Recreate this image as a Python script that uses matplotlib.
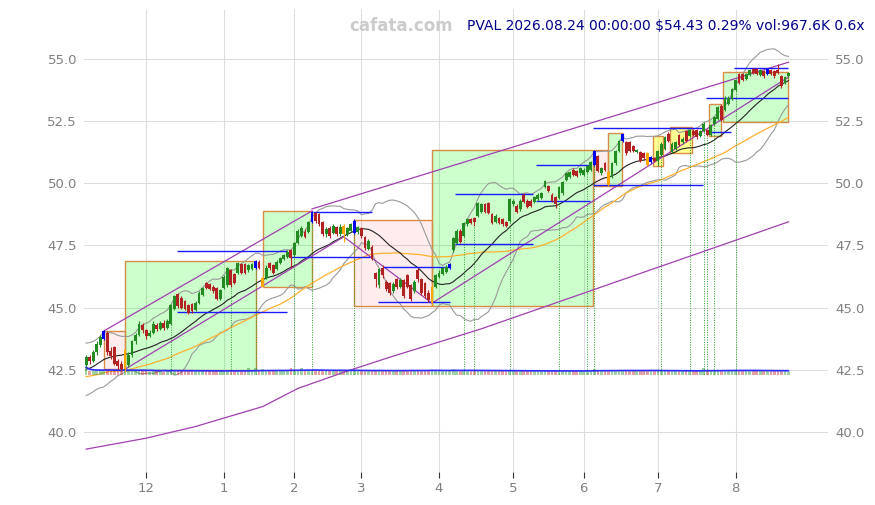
import numpy as np
import pandas as pd
import matplotlib
matplotlib.use("Agg")
import matplotlib.pyplot as plt
from matplotlib.patches import Rectangle

# ---------------- data ----------------
TICKER = "PVAL"
START, END = "2025-11-05", "2026-08-24"
HOLIDAYS = ["2025-11-27", "2025-12-25", "2026-01-01", "2026-01-19", "2026-02-16",
            "2026-04-03", "2026-05-25", "2026-06-19", "2026-07-03"]

# closes before the visible window (only used to warm up the moving averages)
PRE_CLOSE = [41.80, 41.95, 42.10, 42.00, 41.85, 41.70, 41.90, 42.05, 42.20, 42.30,
             42.15, 42.00, 41.90, 42.10, 42.25, 42.35, 42.20, 42.05, 41.95, 41.85,
             41.95, 42.10, 42.20, 42.05, 41.90, 41.80, 41.95, 42.10, 42.15, 42.05,
             42.00, 41.85, 41.75, 41.90, 42.05, 42.15, 42.10, 42.20, 42.05, 42.25,
             42.50, 42.75, 42.90, 43.10, 43.25, 43.20, 43.05, 43.15, 43.20]

OPEN = [42.70, 43.00, 42.85, 43.20, 43.50, 43.75, 44.00, 43.25, 43.40, 42.85,
        42.75, 42.55, 42.70, 43.10, 43.65, 43.90, 44.30, 44.10, 43.85, 44.00,
        44.30, 44.15, 44.40, 44.20, 44.35, 44.95, 45.55, 45.40, 45.25, 45.10,
        45.15, 44.90, 45.20, 45.50, 46.00, 45.95, 45.85, 45.80, 45.35, 45.80,
        45.90, 46.50, 46.35, 46.40, 46.75, 46.75, 46.50, 46.55, 46.60, 46.85,
        45.85, 46.20, 46.80, 46.70, 46.55, 46.80, 46.95, 47.05, 47.30, 47.10,
        47.60, 47.90, 48.05, 48.05, 48.45, 48.80, 48.75, 48.45, 47.95, 48.20,
        48.00, 48.25, 47.95, 48.30, 47.95, 48.10, 48.00, 48.05, 48.20, 47.85,
        47.35, 47.45, 46.40, 45.90, 46.60, 46.05, 46.00, 45.65, 46.15, 45.85,
        46.10, 46.30, 45.90, 45.65, 46.50, 46.15, 46.00, 45.60, 45.20, 45.85,
        46.25, 46.35, 46.45, 46.60, 47.30, 47.60, 48.10, 47.90, 48.35, 48.55,
        48.60, 48.70, 48.85, 49.15, 49.20, 48.75, 48.45, 48.60, 48.55, 48.45,
        48.50, 49.15, 49.10, 48.95, 49.55, 49.30, 49.30, 49.25, 49.35, 49.40,
        49.85, 49.90, 49.55, 49.45, 49.40, 49.60, 50.15, 50.25, 50.55, 50.50,
        50.40, 50.35, 50.45, 50.55, 50.75, 51.10, 50.40, 50.80, 50.45, 50.25,
        50.80, 51.30, 51.70, 51.65, 51.65, 51.50, 51.25, 51.25, 51.20, 51.20,
        50.85, 51.00, 50.90, 51.15, 51.40, 52.00, 51.25, 51.40, 51.95, 51.65,
        52.10, 51.90, 52.10, 52.15, 51.90, 52.10, 52.15, 51.95, 52.40, 52.60,
        53.10, 52.95, 53.20, 53.40, 53.75, 54.40, 54.40, 54.20, 54.35, 54.60,
        54.60, 54.35, 54.50, 54.40, 54.55, 54.50, 54.55, 54.30, 54.05, 54.30]

HIGH = [43.10, 43.10, 43.30, 43.65, 43.90, 44.10, 44.05, 43.40, 43.45, 42.95,
        42.85, 43.35, 43.20, 43.70, 44.00, 44.45, 44.40, 44.15, 44.10, 44.45,
        44.40, 44.45, 44.50, 44.55, 45.15, 45.50, 45.60, 45.45, 45.30, 45.15,
        45.20, 45.25, 45.65, 45.85, 46.05, 46.00, 45.90, 45.85, 45.75, 46.30,
        46.65, 46.55, 46.40, 46.85, 46.80, 46.80, 46.75, 46.80, 46.90, 46.90,
        46.30, 46.70, 46.85, 46.75, 46.90, 47.05, 47.15, 47.30, 47.35, 47.65,
        48.15, 48.30, 48.15, 48.50, 48.90, 48.85, 48.80, 48.50, 48.25, 48.30,
        48.35, 48.30, 48.35, 48.35, 48.25, 48.40, 48.55, 48.30, 48.25, 47.90,
        47.75, 47.50, 46.45, 46.60, 46.70, 46.10, 46.05, 46.05, 46.20, 46.20,
        46.15, 46.35, 45.95, 46.10, 46.60, 46.20, 46.05, 45.70, 45.90, 46.35,
        46.50, 46.65, 46.70, 46.80, 47.85, 48.15, 48.15, 48.45, 48.60, 48.60,
        48.65, 49.25, 49.20, 49.20, 49.25, 48.80, 48.75, 48.65, 48.60, 48.50,
        49.40, 49.35, 49.15, 49.35, 49.60, 49.35, 49.35, 49.50, 49.60, 49.65,
        50.15, 49.95, 49.60, 49.50, 49.90, 50.10, 50.45, 50.50, 50.60, 50.55,
        50.65, 50.60, 50.75, 50.90, 51.34, 51.15, 50.65, 50.85, 50.50, 50.85,
        51.35, 51.75, 52.01, 51.70, 51.70, 51.55, 51.40, 51.30, 51.25, 51.25,
        51.10, 51.05, 51.35, 51.65, 51.90, 52.05, 51.65, 51.70, 52.00, 51.85,
        52.15, 52.20, 52.20, 52.20, 52.15, 52.45, 52.20, 52.40, 52.70, 53.10,
        53.18, 53.50, 53.50, 53.85, 54.20, 54.45, 54.45, 54.45, 54.60, 54.63,
        54.63, 54.60, 54.55, 54.63, 54.60, 54.55, 54.80, 54.35, 54.30, 54.46]

LOW = [42.60, 42.75, 42.80, 43.10, 43.40, 43.70, 43.10, 42.95, 42.70, 42.55,
       42.45, 42.40, 42.60, 43.00, 43.55, 43.85, 44.00, 43.75, 43.80, 43.95,
       44.05, 44.10, 44.10, 44.15, 44.30, 44.90, 45.00, 44.95, 44.90, 44.75,
       44.80, 44.85, 45.15, 45.45, 45.75, 45.70, 45.60, 45.30, 45.30, 45.75,
       45.85, 45.85, 45.95, 46.35, 46.35, 46.35, 46.45, 46.50, 46.55, 46.55,
       45.82, 46.15, 46.50, 46.35, 46.50, 46.75, 46.90, 47.00, 46.60, 47.05,
       47.55, 47.85, 47.80, 48.00, 48.40, 48.40, 48.30, 47.90, 47.85, 47.80,
       47.95, 47.90, 47.90, 47.65, 47.90, 48.05, 47.95, 47.95, 47.80, 47.30,
       47.30, 46.90, 45.85, 45.80, 46.20, 45.65, 45.50, 45.60, 45.75, 45.80,
       45.40, 45.80, 45.25, 45.60, 46.05, 45.50, 45.40, 45.22, 45.10, 45.80,
       46.20, 46.30, 46.40, 46.55, 47.25, 47.55, 47.60, 47.85, 48.30, 48.35,
       48.30, 48.65, 48.80, 48.80, 48.75, 48.35, 48.40, 48.35, 48.30, 48.25,
       48.45, 49.10, 48.80, 48.90, 49.20, 49.00, 49.05, 49.20, 49.30, 49.35,
       49.80, 49.65, 49.25, 49.00, 49.35, 49.55, 50.10, 50.20, 50.30, 50.25,
       50.35, 50.30, 50.40, 50.50, 50.70, 50.45, 50.35, 50.50, 49.90, 50.20,
       50.75, 51.25, 51.65, 51.15, 51.25, 51.25, 51.20, 50.85, 50.95, 50.71,
       50.80, 50.85, 50.70, 51.10, 51.35, 51.65, 51.20, 51.35, 51.50, 51.60,
       51.65, 51.85, 51.90, 51.80, 51.85, 52.05, 51.90, 51.92, 52.35, 52.55,
       52.50, 52.90, 53.15, 53.35, 53.70, 54.00, 54.10, 54.15, 54.30, 54.40,
       54.35, 54.30, 54.25, 54.35, 54.35, 54.25, 54.40, 53.85, 54.00, 54.25]

CLOSE = [43.00, 42.85, 43.20, 43.55, 43.80, 44.05, 43.20, 43.05, 42.75, 42.65,
         42.55, 43.30, 43.10, 43.65, 43.90, 44.35, 44.10, 43.85, 44.00, 44.35,
         44.15, 44.40, 44.20, 44.45, 45.10, 45.45, 45.05, 45.00, 44.95, 44.80,
         44.85, 45.20, 45.60, 45.80, 45.80, 45.75, 45.65, 45.35, 45.70, 46.25,
         46.60, 45.90, 46.00, 46.80, 46.40, 46.40, 46.70, 46.75, 46.88, 46.60,
         46.20, 46.60, 46.60, 46.40, 46.85, 47.00, 47.10, 47.25, 47.00, 47.60,
         48.10, 48.20, 47.85, 48.45, 48.85, 48.50, 48.35, 47.95, 48.15, 47.90,
         48.30, 47.95, 48.25, 47.95, 48.20, 48.35, 48.50, 48.25, 47.90, 47.40,
         47.70, 46.95, 46.15, 46.55, 46.30, 45.75, 45.60, 45.95, 45.85, 46.10,
         45.45, 45.85, 45.35, 46.05, 46.15, 45.60, 45.45, 45.30, 45.85, 46.30,
         46.40, 46.60, 46.65, 46.75, 47.80, 48.10, 47.65, 48.40, 48.55, 48.40,
         48.45, 49.20, 49.15, 48.85, 48.80, 48.40, 48.70, 48.40, 48.35, 48.30,
         49.35, 49.30, 48.85, 49.30, 49.25, 49.05, 49.10, 49.45, 49.55, 49.60,
         50.10, 49.70, 49.30, 49.15, 49.85, 50.05, 50.40, 50.45, 50.35, 50.30,
         50.60, 50.55, 50.70, 50.85, 51.30, 50.50, 50.60, 50.55, 49.95, 50.80,
         51.30, 51.70, 51.98, 51.20, 51.30, 51.30, 51.35, 50.90, 51.00, 50.75,
         51.05, 50.90, 51.30, 51.60, 51.85, 51.70, 51.60, 51.65, 51.55, 51.80,
         51.70, 52.15, 51.95, 51.85, 52.10, 52.40, 51.95, 52.35, 52.65, 53.05,
         52.55, 53.45, 53.45, 53.80, 54.15, 54.05, 54.15, 54.40, 54.55, 54.45,
         54.40, 54.55, 54.30, 54.60, 54.40, 54.30, 54.45, 53.90, 54.27, 54.43]

VOLUME_K = [2900, 1500, 1400, 1600, 1700, 1900, 2100, 1500, 1600, 1400,
            1500, 2700, 1800, 1600, 1500, 1700, 1400, 1300, 1200, 1500,
            1400, 1300, 1200, 1500, 2400, 1900, 1500, 1600, 1400, 1300,
            1500, 1400, 1600, 1500, 1300, 1400, 1500, 1700, 1400, 1600,
            1500, 1800, 1600, 1400, 1300, 1500, 2600, 1400, 2800, 1600,
            2200, 1700, 1500, 1400, 1500, 1600, 1400, 1500, 2600, 1700,
            1800, 2500, 1600, 1700, 2000, 1800, 1600, 1700, 1500, 1400,
            1500, 1600, 1400, 1900, 1500, 1600, 1800, 1500, 1600, 1700,
            1500, 1800, 2000, 1700, 1600, 1500, 1700, 1400, 1500, 1600,
            1800, 1600, 1900, 1500, 1600, 1700, 1800, 1900, 2400, 1700,
            1500, 1400, 1600, 1500, 2100, 1800, 1600, 1700, 1500, 1400,
            1600, 1800, 1500, 1400, 1600, 1500, 1400, 1300, 1500, 1900,
            1700, 1500, 1400, 1600, 1500, 1400, 1300, 1500, 1400, 1600,
            1700, 1500, 1600, 1800, 1500, 1400, 1600, 1500, 1400, 1300,
            1500, 1400, 1600, 1700, 2300, 1800, 1600, 1500, 1900, 1700,
            1800, 1600, 1900, 1700, 1500, 1400, 1600, 1500, 1700, 1600,
            1500, 1400, 1600, 1700, 1500, 1600, 1400, 1500, 1300, 1600,
            1500, 1700, 1400, 1500, 1600, 2500, 1500, 1600, 1700, 1800,
            1900, 1800, 1700, 1600, 2000, 1800, 1500, 1600, 1400, 1500,
            1300, 1600, 1500, 1400, 1300, 1500, 1700, 1900, 1600, 967.6]

BLUE_BARS = [5, 48, 64, 76, 103, 144, 152, 160, 193]
ORANGE_BARS = [11, 50, 73, 98, 148, 159]
SIGNAL_BARS = [24, 41, 48, 59, 64, 76, 107, 110, 120, 134, 142, 144,
               163, 171, 175, 176, 178, 184]

# boxes (bar index span, price span, kind)
BOX_START = [5, 11, 50, 76, 98, 144, 148, 160.7, 165.4, 176.6, 180.5]
BOX_END = [11, 48.1, 63.9, 97.9, 143.7, 147.8, 151.8, 163.5, 171.6, 179.8, 198.8]
BOX_LOW = [42.52, 42.50, 45.82, 45.08, 45.08, 49.89, 49.89, 50.71, 51.21, 51.92, 52.45]
BOX_HIGH = [44.06, 46.88, 48.89, 48.53, 51.34, 51.34, 52.01, 51.92, 52.28, 53.18, 54.46]
BOX_KIND = ["down", "up", "up", "down", "up", "down", "up", "flat", "flat", "up", "up"]

# horizontal support / resistance levels
LEVEL_START = [25.7, 25.7, 57.8, 64.4, 82.8, 84.2, 104.5, 104.5, 127.5, 127.5,
               143.7, 143.7, 175.6, 175.6, 183.6]
LEVEL_END = [57.0, 57.0, 80.5, 81.0, 103.1, 103.1, 126.7, 126.7, 142.8, 142.8,
             174.9, 174.9, 198.8, 182.6, 198.8]
LEVEL_PRICE = [47.28, 44.82, 47.05, 48.86, 45.22, 46.62, 49.56, 47.55, 50.73, 49.28,
               52.21, 49.92, 53.42, 52.05, 54.63]

# purple trend lines
TREND_HI_X = [5, 64]
TREND_HI_Y = [44.06, 48.89]
TREND_ZZ_X = [11, 73, 98, 199]
TREND_ZZ_Y = [42.52, 47.85, 45.18, 54.27]
TREND_TOP_X = [64, 199]
TREND_TOP_Y = [48.97, 54.87]
TREND_LOW_X = [0, 17, 31, 50, 60, 74, 87, 103, 112, 199]
TREND_LOW_Y = [39.31, 39.75, 40.22, 41.02, 41.75, 42.45, 43.05, 43.75, 44.15, 48.45]

TITLE = "PVAL 2026.08.24 00:00:00 $54.43 0.29% vol:967.6K 0.6x"
WATERMARK = "cafata.com"

# ---------------- derived ----------------
dates = pd.bdate_range(START, END)
dates = dates[~dates.isin(pd.to_datetime(HOLIDAYS))]
n = len(CLOSE)
x = np.arange(n)
o = np.array(OPEN); h = np.array(HIGH); l = np.array(LOW); c = np.array(CLOSE)
vol = np.array(VOLUME_K, dtype=float)

allc = pd.Series(PRE_CLOSE + CLOSE)
sma20 = allc.rolling(20).mean().values[-n:]
sd20 = allc.rolling(20).std(ddof=0).values[-n:]
sma50 = allc.rolling(50).mean().values[-n:]
bb_up = sma20 + 2 * sd20
bb_lo = sma20 - 2 * sd20
vol_ma = pd.Series(vol).rolling(20, min_periods=1).mean().values

# ---------------- figure ----------------
fig = plt.figure(figsize=(8.75, 5.05), dpi=100)
ax = fig.add_axes([84 / 875, 1 - 472 / 505, (828 - 84) / 875, (472 - 10) / 505])
ax.set_xlim(-0.6, 210.2)
ax.set_ylim(38.39, 56.97)
for s in ax.spines.values():
    s.set_visible(False)
ax.set_axisbelow(True)
ax.grid(True, color="#dddddd", lw=0.8)

# boxes
box_face = {"up": (0.0, 1.0, 0.0, 0.2), "down": (1.0, 0.0, 0.0, 0.07), "flat": (1.0, 1.0, 0.0, 0.42)}
for s0, s1, lo, hi, k in zip(BOX_START, BOX_END, BOX_LOW, BOX_HIGH, BOX_KIND):
    ax.add_patch(Rectangle((s0, lo), s1 - s0, hi - lo, facecolor=box_face[k],
                           edgecolor="#d98c45", lw=1.0, zorder=1))

# indicators
ax.plot(x, bb_up, color="#9a9a9a", lw=0.8, zorder=2)
ax.plot(x, bb_lo, color="#9a9a9a", lw=0.8, zorder=2)
ax.plot(x, sma50, color="#ffb030", lw=0.9, zorder=2)
ax.plot(x, sma20, color="#222222", lw=0.8, zorder=2)

# trend lines
pc = "#a040b0"
ax.plot(TREND_HI_X, TREND_HI_Y, color=pc, lw=0.9, zorder=3)
ax.plot(TREND_ZZ_X, TREND_ZZ_Y, color=pc, lw=0.9, zorder=3)
ax.plot(TREND_TOP_X, TREND_TOP_Y, color=pc, lw=0.9, zorder=3)
ax.plot(TREND_LOW_X, TREND_LOW_Y, color=pc, lw=0.9, zorder=3)

# levels
ax.hlines(LEVEL_PRICE, LEVEL_START, LEVEL_END, colors="#1a1aff", lw=1.0, zorder=3)

# volume strip
vbase = 42.30
vscale = 0.30 / vol.max()
up = c >= o
vcol = np.where(up, "#2e9b2e", "#c23030")
ax.bar(x, vol * vscale, bottom=vbase, width=0.75, color=vcol, alpha=0.45, lw=0, zorder=2)
ax.plot(x, vbase + vol_ma * vscale, color="#2a2aff", lw=1.2, zorder=3)

# signal lines
ax.vlines(SIGNAL_BARS, 42.35, l[SIGNAL_BARS], colors="#2ca02c", linestyles=(0, (1, 1.5)),
          lw=0.7, zorder=2.5)

# candles
col = np.where(up, "#228b22", "#b22222").astype(object)
for i in BLUE_BARS:
    col[i] = "#0000ee"
for i in ORANGE_BARS:
    col[i] = "#ffa500"
col = list(col)
ax.vlines(x, l, h, colors=col, lw=0.8, zorder=4)
body_lo = np.minimum(o, c)
body_h = np.maximum(np.abs(c - o), 0.03)
ax.bar(x, body_h, bottom=body_lo, width=0.8, color=col, lw=0, zorder=4)

# ticks
yt = [40.0, 42.5, 45.0, 47.5, 50.0, 52.5, 55.0]
ax.set_yticks(yt)
ax.set_yticklabels([f"{v:.1f}" for v in yt])
ax.tick_params(axis="y", length=0, labelleft=True, labelright=True,
               labelcolor="#808080", labelsize=9.5, pad=5)
month_first = [i for i in range(1, n) if dates[i].month != dates[i - 1].month]
ax.set_xticks(month_first)
ax.set_xticklabels([str(dates[i].month) for i in month_first])
ax.tick_params(axis="x", length=4, width=0.8, color="#333333",
               labelcolor="#808080", labelsize=9.5, pad=3)

fig.text(401 / 875, 1 - 26 / 505, WATERMARK, ha="center", va="center",
         fontsize=12, fontweight="bold", color="#cccccc")
fig.text(865 / 875, 1 - 26 / 505, TITLE, ha="right", va="center",
         fontsize=10, color="#00008b")

fig.savefig("out.png", dpi=100)
